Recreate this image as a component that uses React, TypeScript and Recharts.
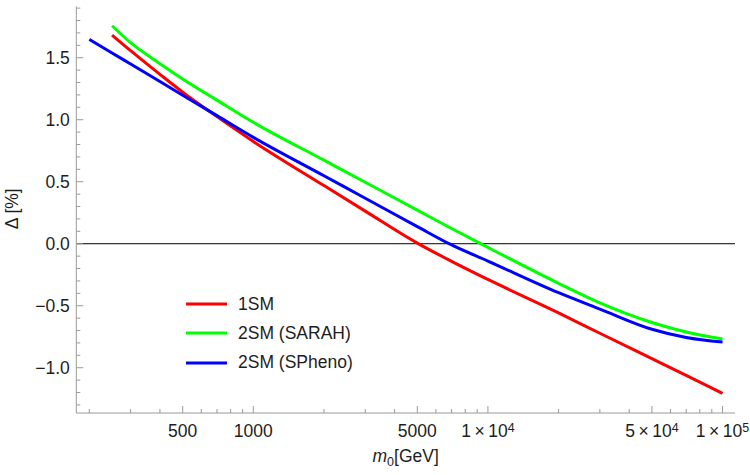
import React from 'react';
import { LineChart, Line, XAxis, YAxis, ReferenceLine, Legend } from 'recharts';

// m0 [GeV]
const m0 = [200, 250, 300, 400, 500, 700, 1000, 2000, 3000, 5000, 7000, 10000, 20000, 30000, 50000, 70000, 100000];
// Delta [%]
const red = [null, 1.683, 1.557, 1.366, 1.222, 1.025, 0.825, 0.469, 0.263, 0.005, -0.142, -0.288, -0.558, -0.722, -0.927, -1.062, -1.207];
const green = [null, 1.758, 1.621, 1.452, 1.329, 1.158, 0.979, 0.674, 0.496, 0.271, 0.123, -0.03, -0.319, -0.477, -0.635, -0.712, -0.769];
const blue = [1.648, 1.538, 1.449, 1.308, 1.198, 1.033, 0.858, 0.548, 0.367, 0.138, -0.01, -0.14, -0.395, -0.527, -0.69, -0.756, -0.793];

const seriesKeys = ['s1', 's2', 's3'];
const seriesNames = ['1SM', '2SM (SARAH)', '2SM (SPheno)'];
const seriesColors = ['#ff0000', '#00ff00', '#0000ff'];

const xMajorTicks = [500, 1000, 5000, 10000, 50000, 100000];
const xTickLabels = ['500', '1000', '5000', '1\u2009×\u200910^4', '5\u2009×\u200910^4', '1\u2009×\u200910^5'];
const xMinorTicks = [200, 300, 400, 600, 700, 800, 900, 2000, 3000, 4000, 6000, 7000, 8000, 9000, 20000, 30000, 40000, 60000, 70000, 80000, 90000];

const yMajorTicks = [-1, -0.5, 0, 0.5, 1, 1.5];
const yTickLabels = ['−1.0', '−0.5', '0.0', '0.5', '1.0', '1.5'];
const yMinorTicks = [-1.3, -1.2, -1.1, -0.9, -0.8, -0.7, -0.6, -0.4, -0.3, -0.2, -0.1, 0.1, 0.2, 0.3, 0.4, 0.6, 0.7, 0.8, 0.9, 1.1, 1.2, 1.3, 1.4, 1.6, 1.7, 1.8, 1.9];

const xDomain = [176, 113000];
const yDomain = [-1.365, 1.913];

const data = m0.map((m, i) => ({ m0: m, s1: red[i], s2: green[i], s3: blue[i] }));

const FONT = '"Liberation Sans", Arial, sans-serif';
const FRAME = '#9a9a9a';
const LABEL = '#1e1e1e';
const MAJ = 7;
const MIN = 4;

const xTicksAll = [...xMinorTicks, ...xMajorTicks].sort((a, b) => a - b);
const yTicksAll = [...yMinorTicks, ...yMajorTicks].sort((a, b) => a - b);

const xLabelOf = (v: number) => {
  const i = xMajorTicks.findIndex((t) => Math.abs(t - v) < 1e-6);
  return i >= 0 ? xTickLabels[i] : null;
};
const yLabelOf = (v: number) => {
  const i = yMajorTicks.findIndex((t) => Math.abs(t - v) < 1e-9);
  return i >= 0 ? yTickLabels[i] : null;
};

const BottomTick = (props: any) => {
  const { x, y, payload } = props;
  const lab = xLabelOf(payload.value);
  const len = lab ? MAJ : MIN;
  let content: any = null;
  if (lab) {
    if (lab.includes('^')) {
      const [base, exp] = lab.split('^');
      content = (
        <text x={x} y={y + 24} textAnchor="middle" fontSize={17.5} fontFamily={FONT} fill={LABEL}>
          <tspan>{base}</tspan>
          <tspan dy={-5.5} fontSize={12.5}>{exp}</tspan>
        </text>
      );
    } else {
      content = (
        <text x={x} y={y + 24} textAnchor="middle" fontSize={17.5} fontFamily={FONT} fill={LABEL}>
          {lab}
        </text>
      );
    }
  }
  return (
    <g>
      <line x1={x} y1={y} x2={x} y2={y - len} stroke={FRAME} strokeWidth={1} />
      {content}
    </g>
  );
};

const TopTick = (props: any) => {
  const { x, y, payload } = props;
  const len = xLabelOf(payload.value) ? MAJ : MIN;
  return <line x1={x} y1={y} x2={x} y2={y + len} stroke={FRAME} strokeWidth={1} />;
};

const LeftTick = (props: any) => {
  const { x, y, payload } = props;
  const lab = yLabelOf(payload.value);
  const len = lab ? MAJ : MIN;
  return (
    <g>
      <line x1={x} y1={y} x2={x + len} y2={y} stroke={FRAME} strokeWidth={1} />
      {lab && (
        <text x={x - 6.5} y={y + 6.3} textAnchor="end" fontSize={17.5} fontFamily={FONT} fill={LABEL}>
          {lab}
        </text>
      )}
    </g>
  );
};

const RightTick = (props: any) => {
  const { x, y, payload } = props;
  const len = yLabelOf(payload.value) ? MAJ : MIN;
  return <line x1={x} y1={y} x2={x - len} y2={y} stroke={FRAME} strokeWidth={1} />;
};

const XTitle = (props: any) => {
  const vb = props.viewBox;
  const cx = vb.x + vb.width / 2;
  const cy = vb.y + 49;
  return (
    <text x={cx} y={cy} textAnchor="middle" fontSize={17.5} fontFamily={FONT} fill={LABEL}>
      <tspan fontStyle="italic">m</tspan>
      <tspan dy={4} fontSize={12.5}>0</tspan>
      <tspan dy={-4}>[GeV]</tspan>
    </text>
  );
};

const YTitle = (props: any) => {
  const vb = props.viewBox;
  const cx = vb.x + vb.width - 64;
  const cy = vb.y + vb.height / 2 - 1;
  return (
    <text
      x={cx}
      y={cy}
      dy="0.35em"
      textAnchor="middle"
      fontSize={17.5}
      fontFamily={FONT}
      fill={LABEL}
      transform={`rotate(-90, ${cx}, ${cy})`}
    >
      Δ [%]
    </text>
  );
};

const LegendContent = () => (
  <div style={{ fontFamily: FONT, fontSize: 17.5, color: LABEL }}>
    {seriesNames.map((n, i) => (
      <div key={n} style={{ display: 'flex', alignItems: 'center', height: 29.2 }}>
        <svg width={41} height={4} style={{ display: 'block' }}>
          <line x1={0} y1={2} x2={41} y2={2} stroke={seriesColors[i]} strokeWidth={3} />
        </svg>
        <span style={{ marginLeft: 11, whiteSpace: 'nowrap' }}>{n}</span>
      </div>
    ))}
  </div>
);

export default function App() {
  return (
    <div style={{ position: 'absolute', left: 0, top: 0, width: 750, height: 475, background: '#fff' }}>
      <LineChart width={750} height={475} data={data} margin={{ top: 6.5, right: 15, bottom: 32, left: 16.3 }}>
        <XAxis
          dataKey="m0"
          type="number"
          scale="log"
          domain={xDomain}
          allowDataOverflow
          ticks={xTicksAll}
          interval={0}
          tickSize={0}
          tickMargin={0}
          tickLine={false}
          height={30}
          axisLine={{ stroke: FRAME }}
          tick={<BottomTick />}
          label={<XTitle />}
        />
        <XAxis
          xAxisId="top"
          orientation="top"
          dataKey="m0"
          type="number"
          scale="log"
          domain={xDomain}
          allowDataOverflow
          ticks={xTicksAll}
          interval={0}
          tickSize={0}
          tickMargin={0}
          tickLine={false}
          height={0}
          axisLine={{ stroke: FRAME }}
          tick={<TopTick />}
        />
        <YAxis
          type="number"
          domain={yDomain}
          allowDataOverflow
          ticks={yTicksAll}
          interval={0}
          tickSize={0}
          tickMargin={0}
          tickLine={false}
          width={60}
          axisLine={{ stroke: FRAME }}
          tick={<LeftTick />}
          label={<YTitle />}
        />
        <YAxis
          yAxisId="right"
          orientation="right"
          type="number"
          domain={yDomain}
          allowDataOverflow
          ticks={yTicksAll}
          interval={0}
          tickSize={0}
          tickMargin={0}
          tickLine={false}
          width={0}
          axisLine={{ stroke: FRAME }}
          tick={<RightTick />}
        />
        <ReferenceLine y={0} stroke="#000" strokeWidth={1} />
        {seriesKeys.map((k, i) => (
          <Line
            key={k}
            dataKey={k}
            name={seriesNames[i]}
            type="monotone"
            stroke={seriesColors[i]}
            strokeWidth={3}
            dot={false}
            activeDot={false}
            isAnimationActive={false}
          />
        ))}
        <Legend
          layout="vertical"
          align="center"
          verticalAlign="middle"
          content={<LegendContent />}
          wrapperStyle={{ left: 186, top: 289.7, width: 'auto', height: 'auto' }}
        />
      </LineChart>
    </div>
  );
}
